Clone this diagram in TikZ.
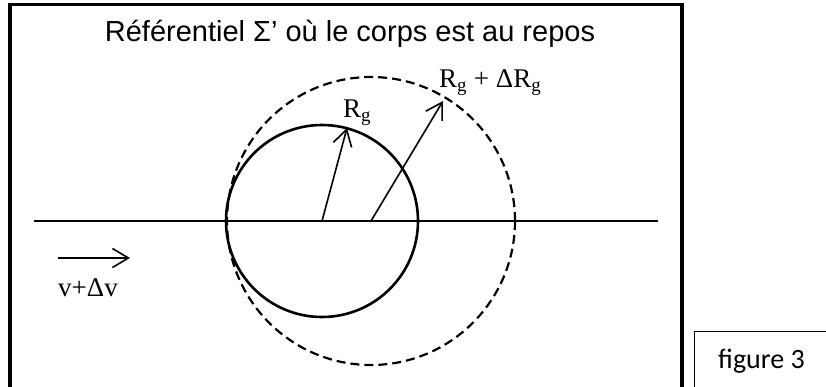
\documentclass[tikz,border=0pt]{standalone}
\usepackage{fontspec}
\setmainfont{Liberation Serif}
\newfontfamily\titlesans{Liberation Sans}
\newfontfamily\boxsans{Carlito}
\usetikzlibrary{calc,arrows.meta,positioning}
\definecolor{lineColor}{RGB}{0,0,0}
\newcommand{\labfont}{\fontsize{27}{29}\selectfont}
\newcommand{\titlefont}{\titlesans\fontsize{29}{31}\selectfont}
\newcommand{\tagfont}{\boxsans\fontsize{28}{30}\selectfont}

\begin{document}
\begin{tikzpicture}[
        x=1pt, y=-1pt,
        frame/.style={draw=lineColor, line width=3.5pt},
        tagbox/.style={draw=lineColor, line width=1pt},
        body/.style={draw=lineColor, line width=2.6pt},
        grown/.style={draw=lineColor, line width=2.2pt, dash pattern=on 9pt off 5pt},
        axis/.style={draw=lineColor, line width=1.8pt},
        vec/.style={-{Straight Barb[length=16pt, width=19pt, line width=1.6pt]}, line width=1.6pt, lineColor},
        lab/.style={inner sep=0pt, font=\labfont}
      ]
      \useasboundingbox (0,0) rectangle (826,387);
      \draw[frame] (10,4.5) rectangle (682,400);
      \draw[tagbox] (694,331) rectangle (840,400);

      \node[inner sep=0pt, anchor=base, font=\titlefont] (title) at (350,42) {Référentiel Σ’ où le corps est au repos};
      \node[inner sep=0pt, anchor=base west, font=\tagfont] (tag) at (718,368) {figure 3};

      \coordinate (axisL) at (34,221);
      \coordinate (axisR) at (658,221);
      \coordinate (c1) at (322,221);
      \coordinate (c2) at (371,221);
      \coordinate (tip1) at (347,128);
      \coordinate (tip2) at (443,101);
      \coordinate (vL) at (58,258);
      \coordinate (vR) at (130,258);

      \draw[axis] (axisL) -- (axisR);
      \draw[grown] (c2) circle[radius=144pt];
      \draw[body] (c1) circle[radius=96pt];

      \node[lab, anchor=base west] (rg) at (343,118) {R\textsubscript{g}};
      \node[lab, anchor=base west] (rgd) at (439,88) {R\textsubscript{g} + ΔR\textsubscript{g}};
      \node[lab, anchor=base west] (vel) at (58,296) {v+Δv};

      \draw[vec] (c1) -- (tip1);
      \draw[vec] (c2) -- (tip2);
      \draw[vec] (vL) -- (vR);
    \end{tikzpicture}
\end{document}
